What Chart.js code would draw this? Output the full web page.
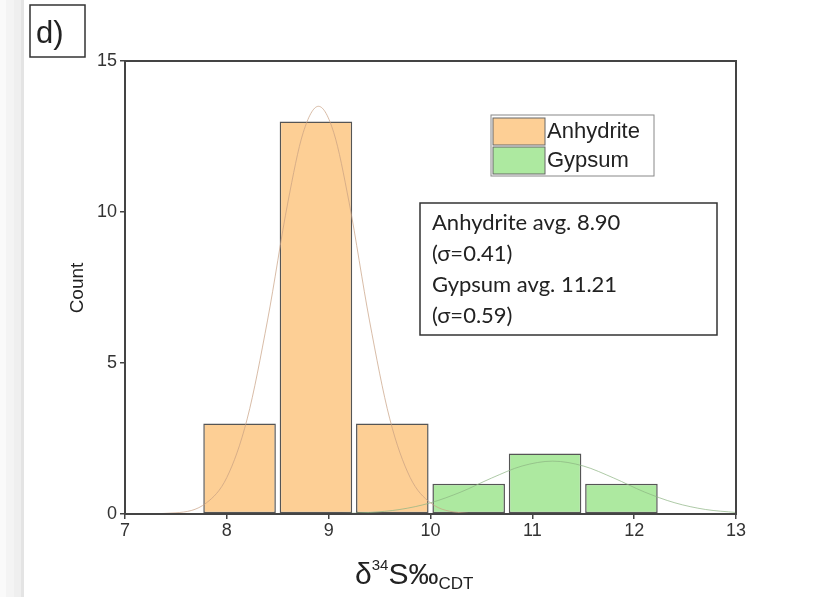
<!DOCTYPE html>
<html>
<head>
<meta charset="utf-8">
<script src="https://cdn.jsdelivr.net/npm/chart.js@4.4.1/dist/chart.umd.min.js"></script>
<style>
  body {
    margin: 0;
    background: linear-gradient(to right, #fafafa 0, #fafafa 6px, #f4f4f4 6px, #f4f4f4 14px,
      #efefef 14px, #efefef 21px, #e4e4e4 21px, #e4e4e4 24px, #fff 24px);
  }
  canvas { display: block; }
</style>
</head>
<body>
<canvas id="histChart" width="833" height="597"></canvas>
<script>
// histogram bins (centres) and counts
const anhydriteBins = [8.125, 8.875, 9.625];
const anhydriteCounts = [3, 13, 3];
const gypsumBins = [10.375, 11.125, 11.875];
const gypsumCounts = [1, 2, 1];

// fitted normal curves
const anhydriteCurveX = [7, 7.5, 7.8, 8.0, 8.2, 8.4, 8.6, 8.75, 8.9, 9.05, 9.2, 9.4, 9.6, 9.8, 10.0, 10.3, 10.6, 11, 12, 13];
const anhydriteCurveY = [0, 0.04, 0.37, 1.21, 3.15, 6.42, 10.33, 12.63, 13.5, 12.63, 10.33, 6.42, 3.15, 1.21, 0.37, 0.04, 0, 0, 0, 0];
const gypsumCurveX = [8, 8.5, 9, 9.4, 9.7, 10, 10.3, 10.6, 10.9, 11.2, 11.5, 11.8, 12.1, 12.4, 12.7, 13];
const gypsumCurveY = [0, 0.001, 0.009, 0.05, 0.15, 0.37, 0.73, 1.19, 1.59, 1.75, 1.59, 1.19, 0.73, 0.37, 0.15, 0.05];

const xTicks = [7, 8, 9, 10, 11, 12, 13];
const yTicks = [0, 5, 10, 15];

const legendItems = ["Anhydrite", "Gypsum"];
const statLines = ["Anhydrite avg. 8.90", "(\u03c3=0.41)", "Gypsum avg. 11.21", "(\u03c3=0.59)"];

const toPoints = (xs, ys) => xs.map((x, i) => ({ x: x, y: ys[i] }));

const decorations = {
  id: "decorations",
  afterDraw(chart) {
    const c = chart.ctx;
    const a = chart.chartArea;
    c.save();
    // frame
    c.strokeStyle = "#444";
    c.lineWidth = 2;
    c.strokeRect(a.left, a.top, a.right - a.left, a.bottom - a.top);

    // panel label
    c.lineWidth = 1.5;
    c.strokeStyle = "#333";
    c.strokeRect(30, 5, 55, 52);
    c.fillStyle = "#222";
    c.font = "31px 'Liberation Sans'";
    c.textBaseline = "alphabetic";
    c.fillText("d)", 36, 43);

    // y title
    c.save();
    c.translate(83, 288);
    c.rotate(-Math.PI / 2);
    c.font = "19px 'Liberation Sans'";
    c.textAlign = "center";
    c.fillStyle = "#222";
    c.fillText("Count", 0, 0);
    c.restore();

    // x title: delta 34 S permil CDT
    c.fillStyle = "#222";
    c.textAlign = "left";
    let x = 355;
    const base = 584;
    c.font = "30px 'Liberation Sans'";
    c.fillText("\u03b4", x, base); x += c.measureText("\u03b4").width;
    c.font = "15px 'Liberation Sans'";
    c.fillText("34", x, base - 14); x += c.measureText("34").width;
    c.font = "30px 'Liberation Sans'";
    c.fillText("S\u2030", x, base); x += c.measureText("S\u2030").width;
    c.font = "17px 'Liberation Sans'";
    c.fillText("CDT", x, base + 5);

    // legend
    c.lineWidth = 1;
    c.strokeStyle = "#888";
    c.fillStyle = "#fff";
    c.fillRect(491, 115, 163, 61);
    c.strokeRect(491, 115, 163, 61);
    const swatch = [["#fdcf95", 118], ["#ade9a0", 147]];
    swatch.forEach((s, i) => {
      c.fillStyle = s[0];
      c.fillRect(493, s[1], 52, 27);
      c.strokeStyle = "#666";
      c.strokeRect(493, s[1], 52, 27);
      c.fillStyle = "#222";
      c.font = "22px 'Liberation Sans'";
      c.textBaseline = "middle";
      c.fillText(legendItems[i], 547, s[1] + 14);
    });

    // stats box
    c.fillStyle = "#fff";
    c.fillRect(420, 203, 297, 132);
    c.lineWidth = 1.5;
    c.strokeStyle = "#333";
    c.strokeRect(420, 203, 297, 132);
    c.fillStyle = "#222";
    c.font = "22px Lato";
    c.textBaseline = "middle";
    statLines.forEach((t, i) => c.fillText(t, 432, 223 + i * 31));
    c.restore();
  }
};

new Chart(document.getElementById("histChart"), {
  data: {
    datasets: [
      {
        type: "line",
        data: toPoints(anhydriteCurveX, anhydriteCurveY),
        borderColor: "rgba(200,160,130,0.7)",
        borderWidth: 1,
        pointRadius: 0,
        cubicInterpolationMode: "monotone",
        order: 0
      },
      {
        type: "line",
        data: toPoints(gypsumCurveX, gypsumCurveY),
        borderColor: "rgba(140,180,130,0.7)",
        borderWidth: 1,
        pointRadius: 0,
        cubicInterpolationMode: "monotone",
        order: 0
      },
      {
        type: "bar",
        label: "Anhydrite",
        data: toPoints(anhydriteBins, anhydriteCounts),
        backgroundColor: "#fdcf95",
        borderColor: "#555",
        borderWidth: 1.5,
        borderSkipped: false,
        grouped: false,
        barPercentage: 0.95,
        categoryPercentage: 1,
        order: 1
      },
      {
        type: "bar",
        label: "Gypsum",
        data: toPoints(gypsumBins, gypsumCounts),
        backgroundColor: "#ade9a0",
        borderColor: "#555",
        borderWidth: 1.5,
        borderSkipped: false,
        grouped: false,
        barPercentage: 0.95,
        categoryPercentage: 1,
        order: 1
      }
    ]
  },
  options: {
    responsive: false,
    animation: false,
    layout: { padding: { left: 0, top: 61, right: 97, bottom: 0 } },
    plugins: { legend: { display: false }, tooltip: { enabled: false } },
    scales: {
      x: {
        type: "linear",
        min: 7,
        max: 13,
        offset: false,
        afterBuildTicks: s => { s.ticks = xTicks.map(v => ({ value: v })); },
        afterFit: s => { s.height = 83; },
        grid: { offset: false, drawOnChartArea: false, drawTicks: true, tickLength: 5, color: "#444", lineWidth: 1.5 },
        border: { display: true, color: "#444", width: 2 },
        ticks: { color: "#333", font: { family: "'Liberation Sans'", size: 18 }, padding: 1 }
      },
      y: {
        min: 0,
        max: 15,
        afterBuildTicks: s => { s.ticks = yTicks.map(v => ({ value: v })); },
        afterFit: s => { s.width = 125; },
        grid: { drawOnChartArea: false, drawTicks: true, tickLength: 5, color: "#444", lineWidth: 1.5 },
        border: { display: true, color: "#444", width: 2 },
        ticks: { color: "#333", font: { family: "'Liberation Sans'", size: 18 }, padding: 3 }
      }
    }
  },
  plugins: [decorations]
});
</script>
</body>
</html>
